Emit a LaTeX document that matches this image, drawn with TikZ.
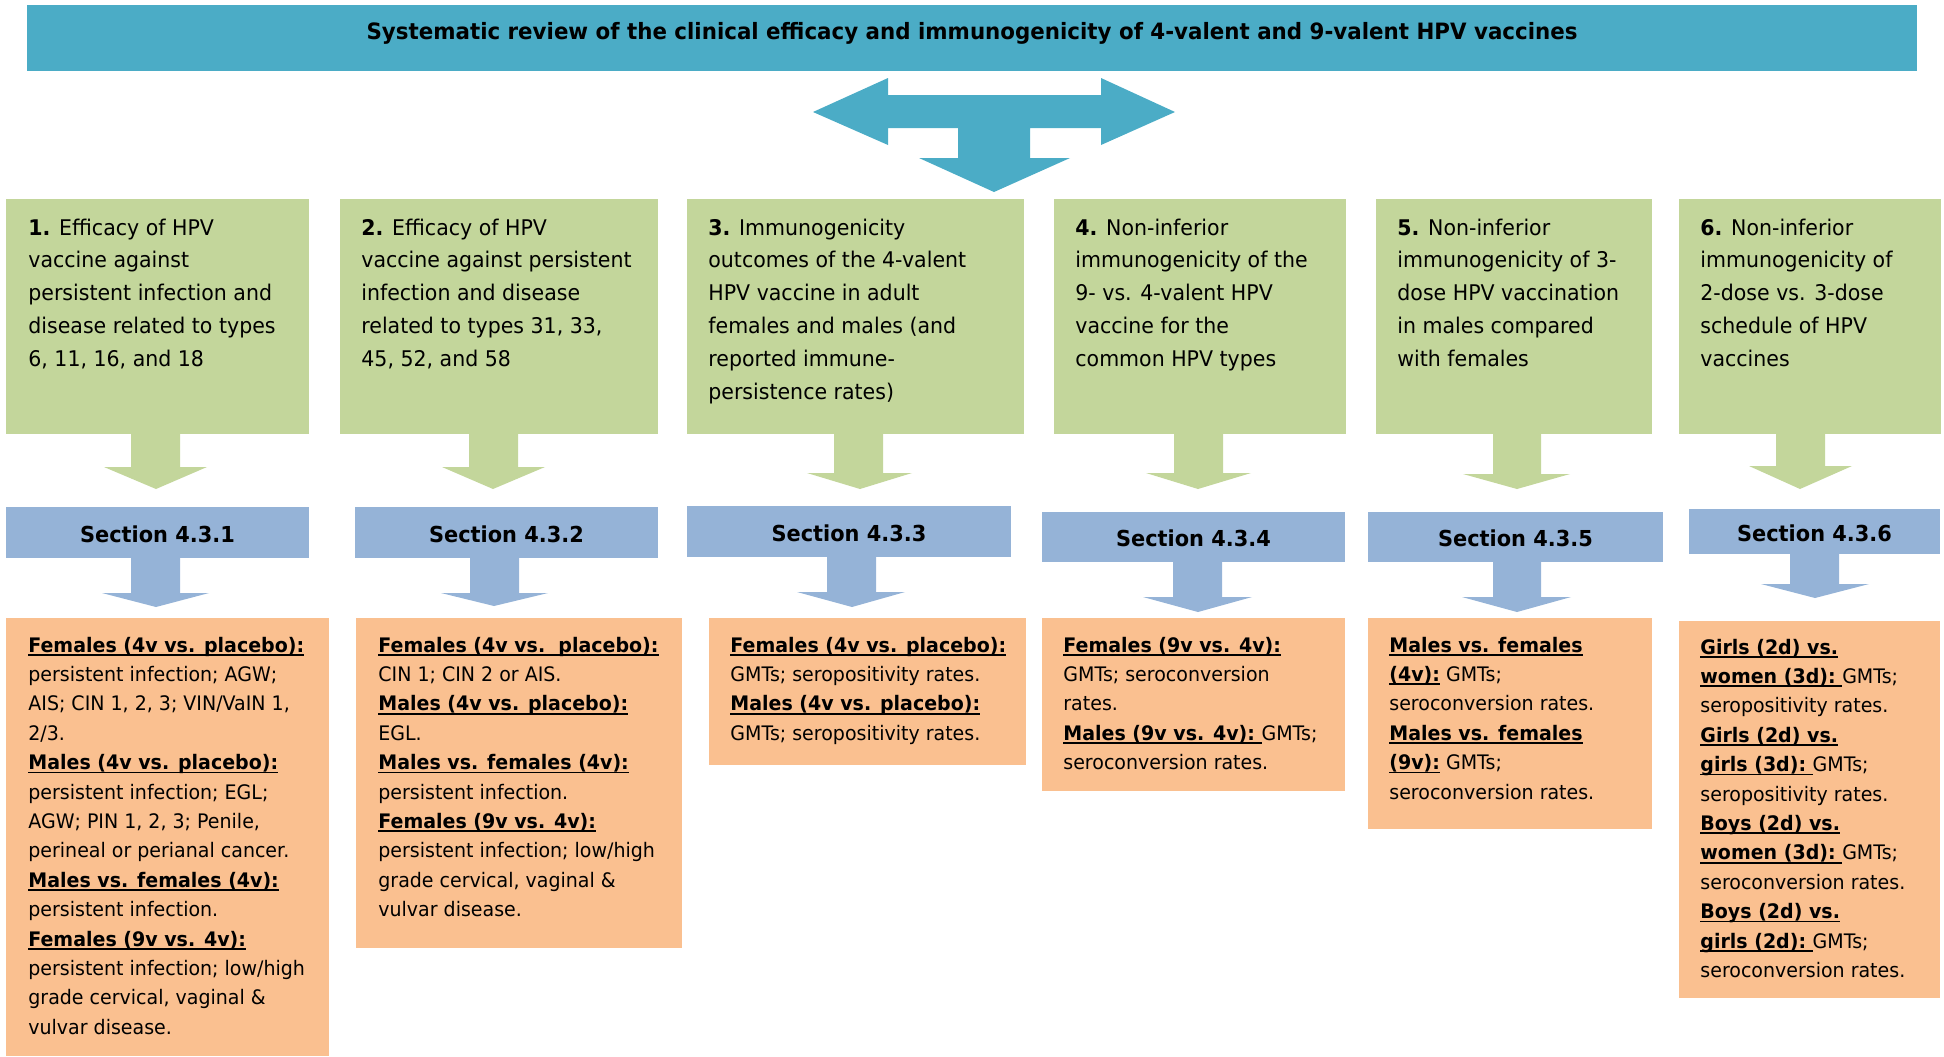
\documentclass[tikz,border=0pt]{standalone}
\usepackage{fontspec}
\setmainfont{DejaVu Sans}[FakeStretch=0.95]
\definecolor{teal}{HTML}{4BACC6}
\definecolor{gbox}{HTML}{C3D69B}
\definecolor{bbox}{HTML}{95B3D7}
\definecolor{obox}{HTML}{FAC090}
\newcommand{\hd}[1]{\setbox0\hbox{\bfseries #1}\rlap{\rule[-1.9pt]{\wd0}{0.9pt}}\box0\relax}
\newcommand{\vl}[1]{\vtop{\let\\\cr\halign{##\hfil\cr#1\crcr}}}
\newcommand{\barrow}[9]{\fill[#1] (#2,#6) -- (#3,#6) -- (#3,#7) -- (#5,#7) -- (#9,#8) -- (#4,#7) -- (#2,#7) -- cycle;}
\tikzset{
  sectlabel/.style={inner sep=0pt, font=\fontsize{11.0}{13}\selectfont\bfseries},
  gtext/.style={inner sep=0pt, anchor=base west, font=\fontsize{10.8}{16.4}\selectfont},
  otext/.style={inner sep=0pt, anchor=base west, font=\fontsize{10.0}{14.7}\selectfont},
}
\begin{document}
\begin{tikzpicture}[x=0.5pt,y=-0.5pt]
\useasboundingbox (0,0) rectangle (1944,1056);
% banner
\path[fill=teal] (27,5) rectangle (1917,71);
\node[inner sep=0pt, anchor=base, font=\fontsize{11.25}{13}\selectfont\bfseries] (title) at (972,39) {Systematic review of the clinical efficacy and immunogenicity of 4-valent and 9-valent HPV vaccines};
% double arrow
\fill[teal] (813,112) -- (888,78) -- (888,95) -- (1101,95) -- (1101,78) -- (1175,112) -- (1101,145) -- (1101,128) -- (1030,128) -- (1030,158) -- (1070,158) -- (994,192) -- (919,158) -- (958,158) -- (958,128) -- (888,128) -- (888,145) -- cycle;
% green boxes
\path[fill=gbox] (6,199) rectangle (309,434);
\path[fill=gbox] (340,199) rectangle (658,434);
\path[fill=gbox] (687,199) rectangle (1024,434);
\path[fill=gbox] (1054,199) rectangle (1346,434);
\path[fill=gbox] (1376,199) rectangle (1652,434);
\path[fill=gbox] (1679,199) rectangle (1941,434);
\node[gtext] (g1) at (28,235) {\vl{\textbf{1.} Efficacy of HPV\\vaccine against\\persistent infection and\\disease related to types\\6, 11, 16, and 18}};
\node[gtext] (g2) at (361,235) {\vl{\textbf{2.} Efficacy of HPV\\vaccine against persistent\\infection and disease\\related to types 31, 33,\\45, 52, and 58}};
\node[gtext] (g3) at (708,235) {\vl{\textbf{3.} Immunogenicity\\outcomes of the 4-valent\\HPV vaccine in adult\\females and males (and\\reported immune-\\persistence rates)}};
\node[gtext] (g4) at (1075,235) {\vl{\textbf{4.} Non-inferior\\immunogenicity of the\\9- vs. 4-valent HPV\\vaccine for the\\common HPV types}};
\node[gtext] (g5) at (1397,235) {\vl{\textbf{5.} Non-inferior\\immunogenicity of 3-\\dose HPV vaccination\\in males compared\\with females}};
\node[gtext] (g6) at (1700,235) {\vl{\textbf{6.} Non-inferior\\immunogenicity of\\2-dose vs. 3-dose\\schedule of HPV\\vaccines}};
% green arrows
\barrow{gbox}{131}{180}{104}{207}{434}{467}{489}{156}
\barrow{gbox}{469}{518}{442}{545}{434}{467}{489}{493}
\barrow{gbox}{834}{883}{807}{912}{434}{473}{489}{860}
\barrow{gbox}{1174}{1223}{1146}{1251}{434}{473}{489}{1198}
\barrow{gbox}{1493}{1541}{1463}{1570}{434}{474}{489}{1517}
\barrow{gbox}{1776}{1825}{1749}{1852}{434}{466}{489}{1800}
% blue section boxes
\path[fill=bbox] (6,507) rectangle (309,558);
\path[fill=bbox] (355,507) rectangle (658,558);
\path[fill=bbox] (687,506) rectangle (1011,557);
\path[fill=bbox] (1042,512) rectangle (1345,562);
\path[fill=bbox] (1368,512) rectangle (1663,562);
\path[fill=bbox] (1689,509) rectangle (1940,554);
\node[sectlabel] (s1) at (157.5,534) {Section 4.3.1};
\node[sectlabel] (s2) at (506.5,534) {Section 4.3.2};
\node[sectlabel] (s3) at (849,533) {Section 4.3.3};
\node[sectlabel] (s4) at (1193.5,538) {Section 4.3.4};
\node[sectlabel] (s5) at (1515.5,538) {Section 4.3.5};
\node[sectlabel] (s6) at (1814.5,533) {Section 4.3.6};
% blue arrows
\barrow{bbox}{131}{180}{102}{209}{558}{593}{607}{156}
\barrow{bbox}{470}{519}{441}{548}{558}{593}{606}{494}
\barrow{bbox}{827}{876}{797}{905}{557}{592}{607}{852}
\barrow{bbox}{1173}{1222}{1143}{1252}{562}{597}{612}{1198}
\barrow{bbox}{1493}{1541}{1462}{1571}{562}{597}{612}{1517}
\barrow{bbox}{1790}{1839}{1761}{1869}{554}{584}{598}{1815}
% orange boxes
\path[fill=obox] (6,618) rectangle (329,1056);
\path[fill=obox] (356,618) rectangle (682,948);
\path[fill=obox] (709,618) rectangle (1026,765);
\path[fill=obox] (1042,618) rectangle (1345,791);
\path[fill=obox] (1368,618) rectangle (1652,829);
\path[fill=obox] (1679,621) rectangle (1940,998);
\node[otext] (o1) at (28,652) {\vl{\hd{Females (4v vs. placebo):}\\persistent infection; AGW;\\AIS; CIN 1, 2, 3; VIN/VaIN 1,\\2/3.\\\hd{Males (4v vs. placebo):}\\persistent infection; EGL;\\AGW; PIN 1, 2, 3; Penile,\\perineal or perianal cancer.\\\hd{Males vs. females (4v):}\\persistent infection.\\\hd{Females (9v vs. 4v):}\\persistent infection; low/high\\grade cervical, vaginal \&\\vulvar disease.}};
\node[otext] (o2) at (378,652) {\vl{\hd{Females (4v vs.\ \ placebo):}\\CIN 1; CIN 2 or AIS.\\\hd{Males (4v vs. placebo):}\\EGL.\\\hd{Males vs. females (4v):}\\persistent infection.\\\hd{Females (9v vs. 4v):}\\persistent infection; low/high\\grade cervical, vaginal \&\\vulvar disease.}};
\node[otext] (o3) at (730,652) {\vl{\hd{Females (4v vs. placebo):}\\GMTs; seropositivity rates.\\\hd{Males (4v vs. placebo):}\\GMTs; seropositivity rates.}};
\node[otext] (o4) at (1063,652) {\vl{\hd{Females (9v vs. 4v):}\\GMTs; seroconversion\\rates.\\\hd{Males (9v vs. 4v):\ }GMTs;\\seroconversion rates.}};
\node[otext] (o5) at (1389,652) {\vl{\hd{Males vs. females}\\\hd{(4v):} GMTs;\\seroconversion rates.\\\hd{Males vs. females}\\\hd{(9v):} GMTs;\\seroconversion rates.}};
\node[otext] (o6) at (1700,654) {\vl{\hd{Girls (2d) vs.}\\\hd{women (3d):\ }GMTs;\\seropositivity rates.\\\hd{Girls (2d) vs.}\\\hd{girls (3d):\ }GMTs;\\seropositivity rates.\\\hd{Boys (2d) vs.}\\\hd{women (3d):\ }GMTs;\\seroconversion rates.\\\hd{Boys (2d) vs.}\\\hd{girls (2d):\ }GMTs;\\seroconversion rates.}};
\end{tikzpicture}
\end{document}
